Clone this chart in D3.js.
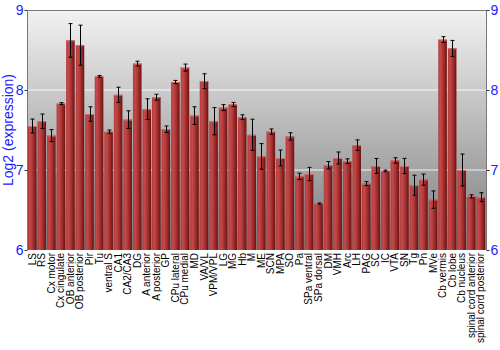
<!DOCTYPE html>
<html><head><meta charset="utf-8">
<script src="https://cdn.jsdelivr.net/npm/d3@7"></script>
<style>body{margin:0;background:#fff}svg{display:block}</style>
</head><body>
<svg id="c" width="500" height="350"></svg>
<script>
const categories = ["LS","RS","Cx motor","Cx cingulate","OB anterior","OB posterior","Pir","Tu","ventral S","CA1","CA2/CA3","DG","A anterior","A posterior","GP","CPu lateral","CPu medial","MD","VA/VL","VPM/VPL","LG","MG","Hb","M","ME","SCN","MPA","SO","Pa","SPa ventral","SPa dorsal","DM","VMH","Arc","LH","PAG","SC","IC","VTA","SN","Tg","Pn","MVe","Cb vermis","Cb lobe","Cb nucleus","spinal cord anterior","spinal cord posterior"];
const values = [7.55,7.61,7.43,7.83,8.62,8.56,7.70,8.17,7.48,7.94,7.63,8.33,7.76,7.91,7.51,8.10,8.28,7.68,8.11,7.61,7.78,7.82,7.66,7.44,7.17,7.48,7.15,7.42,6.92,6.95,6.58,7.06,7.15,7.11,7.31,6.83,7.05,6.99,7.12,7.05,6.81,6.88,6.63,8.63,8.52,7.00,6.67,6.66];
const errors = [0.087,0.09,0.075,0.012,0.21,0.25,0.09,0.012,0.02,0.095,0.11,0.03,0.13,0.037,0.04,0.02,0.044,0.11,0.093,0.17,0.037,0.025,0.03,0.195,0.16,0.033,0.1,0.046,0.04,0.083,0.008,0.046,0.075,0.03,0.066,0.025,0.093,0.01,0.033,0.095,0.125,0.07,0.108,0.037,0.1,0.2,0.02,0.056];
const yTicks = [6,7,8,9];
const yLabel = "Log2 (expression)";

const svg = d3.select("#c");
const L = 27, R = 486, T = 10, B = 250;
const x = d3.scaleBand().domain(categories).range([L, R]).paddingInner(0.1).paddingOuter(0.1);
const y = d3.scaleLinear().domain([6, 9]).range([B, T]);

const defs = svg.append("defs");
const bg = defs.append("linearGradient").attr("id","bg").attr("x1",0).attr("y1",0).attr("x2",0).attr("y2",1);
bg.append("stop").attr("offset","0%").attr("stop-color","#f2f2f2");
bg.append("stop").attr("offset","100%").attr("stop-color","#7c7c7c");
const bar = defs.append("linearGradient").attr("id","bar").attr("x1",0).attr("y1",0).attr("x2",1).attr("y2",0);
bar.append("stop").attr("offset","0%").attr("stop-color","#b23a3a");
bar.append("stop").attr("offset","25%").attr("stop-color","#c44a4a");
bar.append("stop").attr("offset","60%").attr("stop-color","#a63030");
bar.append("stop").attr("offset","100%").attr("stop-color","#6a1212");

svg.append("rect").attr("x", L).attr("y", T).attr("width", R - L).attr("height", B - T).attr("fill", "url(#bg)");

// gridlines
svg.selectAll("line.grid").data(yTicks.filter(d => d > 6 && d < 9)).enter().append("line")
  .attr("x1", L).attr("x2", R).attr("y1", d => y(d)).attr("y2", d => y(d))
  .attr("stroke", "#ffffff").attr("stroke-opacity", 0.85).attr("stroke-width", 1.2);

// bars
const g = svg.append("g");
g.selectAll("rect.b").data(values).enter().append("rect")
  .attr("x", (d,i) => x(categories[i])).attr("width", x.bandwidth())
  .attr("y", d => y(d)).attr("height", d => B - y(d))
  .attr("fill", "url(#bar)");
g.selectAll("line.top").data(values).enter().append("line")
  .attr("x1", (d,i) => x(categories[i])).attr("x2", (d,i) => x(categories[i]) + x.bandwidth())
  .attr("y1", d => y(d) + 0.5).attr("y2", d => y(d) + 0.5)
  .attr("stroke", "#d46a6a").attr("stroke-width", 1);

// error bars
const eb = svg.append("g").attr("stroke", "#000").attr("stroke-width", 1);
values.forEach((v, i) => {
  const cx = Math.round(x(categories[i]) + x.bandwidth() / 2) + 0.5;
  const e = errors[i];
  eb.append("line").attr("x1", cx).attr("x2", cx).attr("y1", y(v + e)).attr("y2", y(v - e));
  eb.append("line").attr("x1", cx - 2).attr("x2", cx + 2).attr("y1", y(v + e)).attr("y2", y(v + e));
  eb.append("line").attr("x1", cx - 2).attr("x2", cx + 2).attr("y1", y(v - e)).attr("y2", y(v - e));
});

// frame
svg.append("path").attr("d", `M${L+0.5},${B}V${T+0.5}H${R+0.5}V${B}`).attr("fill","none").attr("stroke","#777");

// axes
const blue = "#2020ff";
const la = svg.append("g").attr("transform", `translate(${L+0.5},0)`).call(d3.axisLeft(y).tickValues(yTicks).tickSize(3).tickFormat(d3.format("d")));
const ra = svg.append("g").attr("transform", `translate(${R+0.5},0)`).call(d3.axisRight(y).tickValues(yTicks).tickSize(3).tickFormat(d3.format("d")));
[la, ra].forEach(a => {
  a.select(".domain").remove();
  a.selectAll("line").attr("stroke", "#333");
  a.selectAll("text").attr("fill", blue).attr("font-family", "Liberation Sans, Arial, sans-serif").attr("font-size", 14);
});
la.selectAll("text").attr("x", -4);
ra.selectAll("text").attr("x", 4);

svg.append("text").attr("transform", `translate(13,${(T+B)/2}) rotate(-90)`)
  .attr("text-anchor","middle").attr("fill", blue)
  .attr("font-family","Liberation Sans, Arial, sans-serif").attr("font-size", 14).text(yLabel);

// x labels
svg.append("g").selectAll("text").data(categories).enter().append("text")
  .attr("transform", d => `translate(${x(d) + x.bandwidth()/2 + 3.5},${B + 3}) rotate(-90)`)
  .attr("text-anchor","end").attr("fill","#000")
  .attr("font-family","Liberation Sans, Arial, sans-serif").attr("font-size", 10).text(d => d);
</script>
</body></html>
